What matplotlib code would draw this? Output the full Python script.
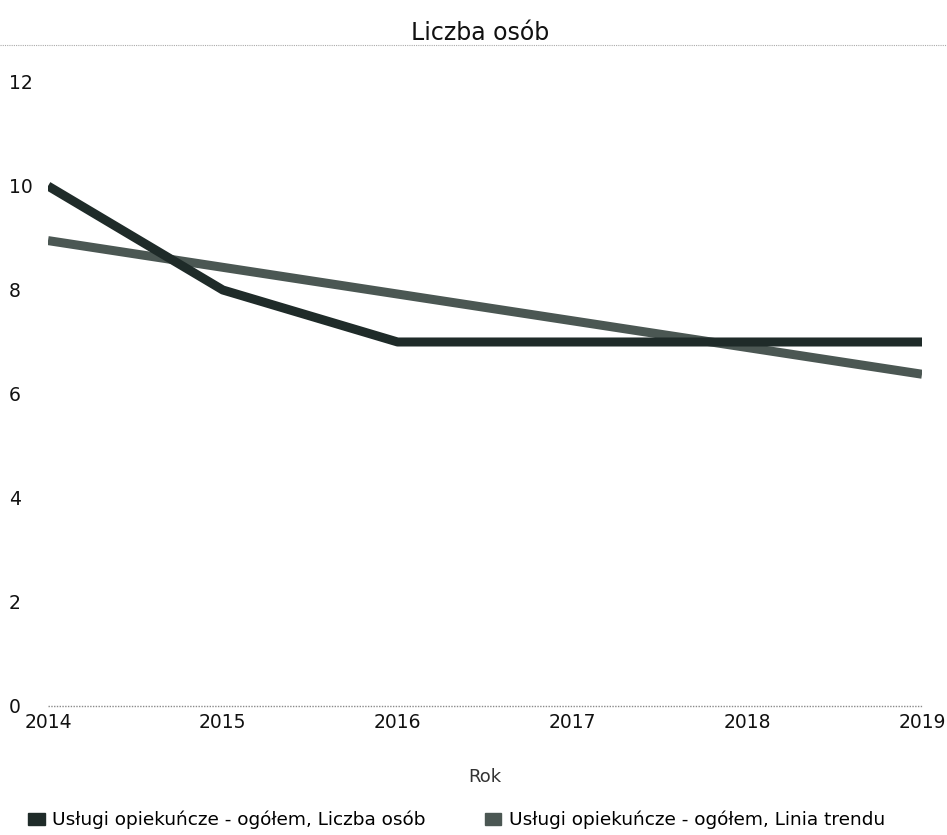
import matplotlib
matplotlib.use("Agg")
import matplotlib.pyplot as plt
from matplotlib.lines import Line2D
from matplotlib.patches import Patch

years = [2014, 2015, 2016, 2017, 2018, 2019]
liczba_osob = [10, 8, 7, 7, 7, 7]
trend_years = [2014, 2019]
trend_values = [8.95, 6.38]
yticks = [0, 2, 4, 6, 8, 10, 12]
series_names = ["Usługi opiekuńcze - ogółem, Liczba osób",
                "Usługi opiekuńcze - ogółem, Linia trendu"]
c_data = "#1f2b29"
c_trend = "#4b5753"

plt.rcParams['font.family'] = ['DejaVu Sans']
fig = plt.figure(figsize=(9.47, 8.35), dpi=100)
ax = fig.add_axes([0.0507, 0.1545, 0.9229, 0.7473])

ax.plot(years, liczba_osob, color=c_data, lw=6.5, solid_capstyle='butt', solid_joinstyle='round', zorder=3)
ax.plot(trend_years, trend_values, color=c_trend, lw=6.5, solid_capstyle='butt', zorder=2)
ax.axhline(0, color="#8a8a8a", lw=1.0, ls=(0, (1, 1)), zorder=1, clip_on=False)

ax.set_xlim(2014, 2019)
ax.set_ylim(0, 12)
ax.set_yticks(yticks)
ax.set_xticks(years)
for s in ax.spines.values():
    s.set_visible(False)
ax.tick_params(axis='both', length=0, labelsize=13.5, colors="#111111")
ax.tick_params(axis='y', pad=28)
for lab in ax.get_yticklabels():
    lab.set_horizontalalignment('left')
ax.tick_params(axis='x', pad=5)

ax.set_xlabel("Rok", fontsize=13, color="#333333", labelpad=26)
fig.text(0.507, 0.961, "Liczba osób", ha='center', va='center', fontsize=17, color="#111111")
fig.add_artist(Line2D([0, 1], [0.946, 0.946], transform=fig.transFigure,
                      color="#aaaaaa", lw=0.8, ls=(0, (1, 1))))

handles = [Patch(facecolor=c_data, edgecolor=c_data), Patch(facecolor=c_trend, edgecolor=c_trend)]
fig.legend(handles, series_names, loc='center left', bbox_to_anchor=(0.012, 0.018), ncol=2,
           frameon=False, fontsize=13.3, handlelength=0.9, handleheight=0.6, handletextpad=0.4,
           columnspacing=3.2)

fig.savefig("out.png", dpi=100)
